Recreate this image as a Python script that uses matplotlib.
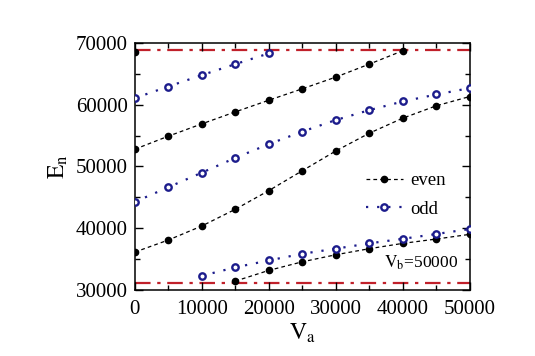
import numpy as np
import matplotlib.pyplot as plt
from matplotlib.ticker import MultipleLocator

plt.rcParams['font.family'] = ['Liberation Serif', 'DejaVu Serif']
plt.rcParams['mathtext.fontset'] = 'stix'

# even states
even_a_x = [0, 5000, 10000, 15000, 20000, 25000, 30000, 35000, 40000]
even_a_y = [52780, 54890, 56880, 58820, 60700, 62550, 64440, 66540, 68700]
even_b_x = [0, 5000, 10000, 15000, 20000, 25000, 30000, 35000, 40000, 45000, 50000]
even_b_y = [36150, 38100, 40370, 43070, 46090, 49300, 52500, 55370, 57800, 59800, 61300]
even_c_x = [15000, 20000, 25000, 30000, 35000, 40000, 45000, 50000]
even_c_y = [31460, 33190, 34580, 35720, 36700, 37560, 38260, 39020]
even_d_x = [0]
even_d_y = [68430]

# odd states
odd_a_x = [0, 5000, 10000, 15000, 20000]
odd_a_y = [61040, 62920, 64760, 66540, 68270]
odd_b_x = [0, 5000, 10000, 15000, 20000, 25000, 30000, 35000, 40000, 45000, 50000]
odd_b_y = [44260, 46640, 48990, 51380, 53600, 55630, 57500, 59100, 60500, 61630, 62660]
odd_c_x = [10000, 15000, 20000, 25000, 30000, 35000, 40000, 45000, 50000]
odd_c_y = [32320, 33680, 34800, 35880, 36700, 37560, 38300, 39070, 39880]

# potential limits
limits = [68870, 31200]

fig = plt.figure(figsize=(5.35, 3.56), dpi=100)
ax = fig.add_axes([0.252, 0.185, 0.626, 0.695])

red = '#c0202a'
for y in limits:
    ax.axhline(y, color=red, linestyle=(0, (7, 3, 1.5, 3)), linewidth=1.6, zorder=1)

even_style = dict(color='black', linestyle=(0, (3, 2.5)), linewidth=0.9,
                  marker='o', markersize=4.5, markerfacecolor='black',
                  markeredgecolor='black', zorder=3)
odd_style = dict(color='#1c1c8c', linestyle=(0, (1, 4)), linewidth=1.6,
                 marker='o', markersize=4.6, markerfacecolor='white',
                 markeredgecolor='#1c1c8c', markeredgewidth=1.7, zorder=3)

ax.plot(even_a_x, even_a_y, **even_style, label='even')
ax.plot(even_b_x, even_b_y, **even_style)
ax.plot(even_c_x, even_c_y, **even_style)
ax.plot(even_d_x, even_d_y, **even_style)
ax.plot(odd_a_x, odd_a_y, **odd_style, label='odd')
ax.plot(odd_b_x, odd_b_y, **odd_style)
ax.plot(odd_c_x, odd_c_y, **odd_style)

ax.set_xlim(0, 50000)
ax.set_ylim(30000, 70000)
ax.xaxis.set_major_locator(MultipleLocator(10000))
ax.xaxis.set_minor_locator(MultipleLocator(5000))
ax.yaxis.set_major_locator(MultipleLocator(10000))
ax.yaxis.set_minor_locator(MultipleLocator(5000))
ax.tick_params(which='both', direction='in', top=True, right=True, labelsize=15)
ax.tick_params(which='major', length=6, width=1)
ax.tick_params(which='minor', length=3.5, width=1)
ax.tick_params(axis='x', pad=7)
ax.tick_params(axis='y', pad=5)
for s in ax.spines.values():
    s.set_linewidth(1.1)

ax.set_xlabel(r'$\mathrm{V_a}$', fontsize=17, labelpad=2)
ax.set_ylabel(r'$\mathrm{E_n}$', fontsize=17, labelpad=4)

ax.text(0.965, 0.11, r'$\mathrm{V_b}$=50000', transform=ax.transAxes,
        ha='right', va='center', fontsize=12.5)

ax.legend(loc='center right', bbox_to_anchor=(0.98, 0.385), frameon=False,
          fontsize=13.5, handlelength=2.0, handletextpad=0.4, labelspacing=0.6)

fig.savefig('out.png', dpi=100)
